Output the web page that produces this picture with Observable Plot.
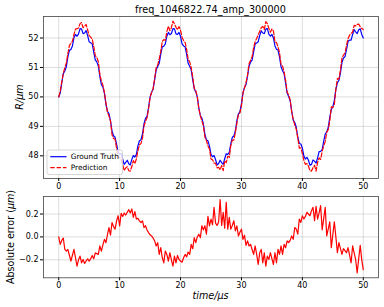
<!DOCTYPE html>
<html>
<head>
<meta charset="utf-8">
<script src="https://cdn.jsdelivr.net/npm/d3@7"></script>
<script src="https://cdn.jsdelivr.net/npm/@observablehq/plot@0.6"></script>
<style>
  html, body { margin: 0; padding: 0; background: #fff; }
  #wrap { position: relative; width: 384px; height: 307px; font-family: "DejaVu Sans", sans-serif; color: #000; overflow: hidden; }
  .abs { position: absolute; white-space: nowrap; line-height: 1; }
  .lbl { font-size: 9.6px; }
</style>
</head>
<body>
<div id="wrap">
  <div id="top" class="abs" style="left:0;top:0"></div>
  <div id="bottom" class="abs" style="left:0;top:188px"></div>
  <div class="abs" style="left:43px;width:335px;top:5px;text-align:center;font-size:9.7px;">freq_1046822.74_amp_300000</div>
  <div class="abs lbl" style="left:20px;top:97px;transform:translate(-50%,-50%) rotate(-90deg);font-style:italic;">R/μm</div>
  <div class="abs lbl" style="left:11px;top:236.5px;transform:translate(-50%,-50%) rotate(-90deg);">Absolute error (<i>μm</i>)</div>
  <div class="abs lbl" style="left:210.5px;top:296px;transform:translate(-50%,-50%);font-style:italic;">time/μs</div>
  <svg id="legend" class="abs" style="left:0;top:0" width="384" height="307"></svg>
</div>
<script>
// ---- data ----
const timeStep = 0.25; // μs between samples, t = 0 … 50
const groundTruth = [
50.00,50.13,50.48,50.79,50.88,51.03,51.36,51.58,51.61,51.73,
52.01,52.12,52.06,52.14,52.32,52.30,52.15,52.17,52.25,52.08,
51.87,51.84,51.80,51.52,51.26,51.19,51.05,50.70,50.42,50.33,
50.13,49.75,49.51,49.43,49.19,48.84,48.68,48.63,48.40,48.12,
48.06,48.07,47.89,47.71,47.78,47.85,47.73,47.69,47.88,48.01,
47.96,48.05,48.34,48.51,48.54,48.74,49.09,49.27,49.35,49.64,
50.00,50.16,50.27,50.59,50.92,51.03,51.14,51.45,51.70,51.72,
51.80,52.06,52.19,52.11,52.15,52.32,52.31,52.14,52.12,52.19,
52.05,51.80,51.73,51.70,51.44,51.14,51.04,50.92,50.58,50.28,
50.17,50.00,49.63,49.36,49.28,49.08,48.73,48.54,48.51,48.33,
48.05,47.97,48.01,47.87,47.69,47.74,47.85,47.77,47.71,47.90,
48.07,48.05,48.12,48.41,48.63,48.67,48.85,49.20,49.42,49.50,
49.76,50.13,50.32,50.42,50.71,51.05,51.18,51.25,51.53,51.80,
51.83,51.87,52.09,52.24,52.17,52.15,52.30,52.32,52.13,52.06,
52.12,52.00,51.73,51.62,51.59,51.35,51.02,50.89,50.79,50.47,
50.13,50.01,49.87,49.51,49.21,49.13,48.97,48.63,48.42,48.40,
48.26,47.99,47.89,47.95,47.85,47.68,47.71,47.86,47.82,47.75,
47.93,48.14,48.15,48.21,48.49,48.74,48.81,48.96,49.31,49.57,
49.66,49.88,50.26,50.48,50.56,50.81,51.17,51.32,51.37,51.61,
51.88,51.93,51.93,52.12,52.29,52.21,52.15,52.28,52.31,52.12,
52.00];
// absolute error = ground truth − prediction (μm)
const absError = [
0.00,-0.065,-0.03,-0.01,-0.109,-0.124,-0.109,-0.16,-0.212,-0.16,
-0.109,-0.18,-0.256,-0.20,-0.168,-0.226,-0.197,-0.232,-0.21,-0.191,
-0.212,-0.19,-0.162,-0.191,-0.14,-0.146,-0.153,-0.079,-0.124,-0.07,
-0.021,-0.05,0.02,0.082,0.015,0.126,0.09,0.068,0.14,0.185,
0.097,0.206,0.179,0.209,0.191,0.215,0.238,0.209,0.244,0.171,
0.221,0.156,0.162,0.14,0.126,0.141,0.082,0.098,0.06,0.038,
0.018,0.009,-0.01,-0.035,-0.079,-0.05,-0.153,-0.094,-0.18,-0.226,
-0.124,-0.153,-0.212,-0.138,-0.20,-0.256,-0.168,-0.226,-0.162,-0.197,
-0.21,-0.221,-0.182,-0.153,-0.174,-0.132,-0.153,-0.065,-0.103,-0.006,
-0.05,0.00,0.024,-0.006,0.097,0.062,0.097,0.024,0.179,0.097,
0.156,0.106,0.259,0.12,0.10,0.13,0.326,0.10,0.215,0.076,
0.303,0.068,0.171,0.068,0.10,0.141,0.053,0.097,0.009,0.04,
0.068,-0.021,0.015,-0.074,-0.035,-0.079,-0.065,-0.11,-0.153,-0.079,
-0.153,-0.241,-0.138,-0.109,-0.226,-0.138,-0.256,-0.168,-0.197,-0.138,
-0.19,-0.241,-0.138,-0.226,-0.109,-0.153,-0.079,-0.153,-0.065,-0.094,
-0.035,-0.05,-0.03,0.009,-0.021,0.082,0.068,0.024,0.156,0.126,
0.185,0.156,0.179,0.215,0.20,0.185,0.229,0.259,0.141,0.268,
0.156,0.21,0.274,0.062,0.16,0.259,0.009,0.07,0.132,-0.094,
0.02,0.132,0.0,-0.138,-0.05,-0.10,-0.153,-0.103,-0.12,-0.138,
-0.094,-0.16,-0.226,-0.079,-0.14,-0.197,-0.315,-0.19,-0.074,-0.20,
-0.285];
const xTicks = [0, 10, 20, 30, 40, 50];
const yTicksTop = [48, 49, 50, 51, 52];
const yTicksBottom = [-0.2, 0.0, 0.2];
const seriesNames = ["Ground Truth", "Prediction"];
const seriesColors = ["#0000ff", "#ff0000"];

// ---- table ----
const rows = groundTruth.map((g, i) => ({
  t: i * timeStep,
  gt: g,
  pred: g - absError[i],
  err: absError[i]
}));

const font = {fontFamily: "DejaVu Sans", fontSize: "8px", color: "#000", background: "transparent", overflow: "visible"};
const gridStyle = {stroke: "#b0b0b0", strokeOpacity: 0.55, strokeWidth: 0.8};
const fmtMinus = d => (d < 0 ? "\u2212" : "") + Math.abs(d).toFixed(1);

const topPlot = Plot.plot({
  width: 384, height: 195,
  marginLeft: 43, marginRight: 6, marginTop: 16, marginBottom: 17,
  style: font,
  x: {domain: [-2.5, 52.5]},
  y: {domain: [47.23, 52.73]},
  marks: [
    Plot.gridX(xTicks, gridStyle),
    Plot.gridY(yTicksTop, gridStyle),
    Plot.line(rows, {x: "t", y: "gt", stroke: seriesColors[0], strokeWidth: 1.2}),
    Plot.line(rows, {x: "t", y: "pred", stroke: seriesColors[1], strokeWidth: 1.2, strokeDasharray: "4.4,1.9"}),
    Plot.frame({stroke: "#444", strokeWidth: 0.8}),
    Plot.axisX(xTicks, {tickSize: 3, tickPadding: 1.5, label: null}),
    Plot.axisY(yTicksTop, {tickSize: 3, tickPadding: 2, label: null, tickFormat: d => String(d)})
  ]
});
document.getElementById("top").appendChild(topPlot);

const bottomPlot = Plot.plot({
  width: 384, height: 119,
  marginLeft: 43, marginRight: 6, marginTop: 8, marginBottom: 29.7,
  style: font,
  x: {domain: [-2.5, 52.5]},
  y: {domain: [-0.357, 0.353]},
  marks: [
    Plot.gridX(xTicks, gridStyle),
    Plot.gridY(yTicksBottom, gridStyle),
    Plot.line(rows, {x: "t", y: "err", stroke: seriesColors[1], strokeWidth: 1.2}),
    Plot.frame({stroke: "#444", strokeWidth: 0.8}),
    Plot.axisX(xTicks, {tickSize: 3, tickPadding: 1.5, label: null}),
    Plot.axisY(yTicksBottom, {tickSize: 3, tickPadding: 2, label: null, tickFormat: fmtMinus})
  ]
});
document.getElementById("bottom").appendChild(bottomPlot);

// ---- legend (matplotlib style, lower left of top axes) ----
const lg = d3.select("#legend");
lg.append("rect").attr("x", 47).attr("y", 150).attr("width", 75.5).attr("height", 24.5)
  .attr("rx", 2).attr("fill", "#fff").attr("fill-opacity", 0.8)
  .attr("stroke", "#cccccc").attr("stroke-width", 0.8);
seriesNames.forEach((name, i) => {
  const y = 156.7 + i * 11;
  lg.append("line").attr("x1", 50.3).attr("x2", 66.5).attr("y1", y).attr("y2", y)
    .attr("stroke", seriesColors[i]).attr("stroke-width", 1.2)
    .attr("stroke-dasharray", i === 1 ? "4.4,1.9" : null);
  lg.append("text").attr("x", 70.7).attr("y", y).attr("dy", "0.35em")
    .attr("font-family", "DejaVu Sans").attr("font-size", 7.4).attr("fill", "#000").text(name);
});
</script>
</body>
</html>
